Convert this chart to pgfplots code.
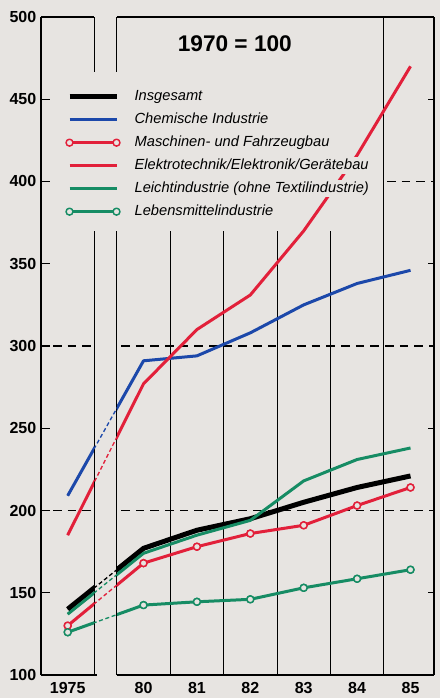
\documentclass[border=0pt]{standalone}
\usepackage{pgfplots}
\pgfplotsset{compat=1.18}
\usepackage{pgfplotstable}
\usepackage{fontspec}
\setmainfont{Liberation Sans}
\definecolor{bg}{RGB}{231,228,225}
\definecolor{cblue}{RGB}{28,72,170}
\definecolor{cred}{RGB}{226,32,58}
\definecolor{cgreen}{RGB}{22,140,100}

\pgfplotstableread{
x    ins chem masch elek leicht leben
0    140 209  130   185  137    126
1.42 177 291  168   277  174    142.5
2.42 188 294  178   310  185    144.5
3.42 195 308  186   331  194    146
4.42 205 325  191   370  218    153
5.42 214 338  203   416  231    158.5
6.42 221 346  214   470  238    164
}\data

\begin{document}
\begin{tikzpicture}[
  hd/.style={line width=0.9pt, dash pattern=on 6.5pt off 4.5pt},
  vl/.style={line width=0.75pt},
]
\path[use as bounding box, fill=bg] (-30.75pt,-17.25pt) rectangle (299.25pt,506.25pt);
\begin{axis}[
  at={(0pt,0pt)}, anchor=south west, scale only axis,
  width=294.75pt, height=493.5pt,
  xmin=-0.5, xmax=6.86, ymin=100, ymax=500,
  clip=false,
  separate axis lines,
  x axis line style={draw=none},
  y axis line style={line width=1.1pt},
  xtick={0,1.42,2.42,3.42,4.42,5.42,6.42},
  xticklabels={1975,80,81,82,83,84,85},
  ytick={100,150,...,500},
  ytick pos=left,
  tick align=inside,
  major tick length=6.75pt,
  x tick style={draw=none},
  y tick style={line width=1.1pt, black},
  ticklabel style={font=\fontsize{12}{14}\selectfont\bfseries},
  /pgf/number format/assume math mode=true,
  xticklabel style={yshift=-2pt},
  legend cell align=left,
  legend style={at={(axis cs:-0.036,457)}, anchor=north west, draw=none, fill=none,
    inner sep=0pt, row sep=4.25pt, column sep=10pt,
    font=\fontsize{11}{13}\selectfont\itshape,
    nodes={inner sep=1pt, text height=8.5pt, text depth=2.5pt, fill=bg}},
  legend image code/.code={\draw[mark repeat=1, mark phase=1, #1] plot coordinates {(0pt,0pt) (35.25pt,0pt)};},
  every axis plot/.append style={line join=round},
  mk/.style={mark=*, mark size=2.6pt, mark options={fill=bg, line width=1.1pt, solid}},
]
% grid and reference lines
\draw[hd] (axis cs:-0.275,200) -- (axis cs:0.5,200);
\draw[hd] (axis cs:-0.275,300) -- (axis cs:0.5,300);
\draw[hd] (axis cs:1.0,200) -- (axis cs:6.86,200);
\draw[hd] (axis cs:1.0,300) -- (axis cs:6.86,300);
\draw[hd] (axis cs:5.98,400) -- (axis cs:6.86,400);
\draw[vl] (axis cs:1.92,100) -- (axis cs:1.92,370);
\draw[vl] (axis cs:2.92,100) -- (axis cs:2.92,370);
\draw[vl] (axis cs:3.92,100) -- (axis cs:3.92,370);
\draw[vl] (axis cs:4.92,100) -- (axis cs:4.92,370);
\draw[vl] (axis cs:5.92,100) -- (axis cs:5.92,500);
\draw[line width=1pt] (axis cs:6.86,150) -- ++(-4.5pt,0pt);
\draw[line width=1pt] (axis cs:6.86,250) -- ++(-4.5pt,0pt);
\draw[line width=1pt] (axis cs:6.86,350) -- ++(-4.5pt,0pt);
\draw[line width=1pt] (axis cs:6.86,450) -- ++(-4.5pt,0pt);

% main series
\addplot[black, line width=3.75pt] table[x=x,y=ins]{\data};
\addlegendentry{Insgesamt}
\addplot[cblue, line width=2.25pt] table[x=x,y=chem]{\data};
\addlegendentry{Chemische Industrie}
\addplot[cred, line width=2.25pt, mk] table[x=x,y=masch]{\data};
\addlegendentry{Maschinen- und Fahrzeugbau}
\addplot[cred, line width=2.25pt] table[x=x,y=elek]{\data};
\addlegendentry{Elektrotechnik/Elektronik/Gerätebau}
\addplot[cgreen, line width=2.25pt] table[x=x,y=leicht]{\data};
\addlegendentry{Leichtindustrie (ohne Textilindustrie)}
\addplot[cgreen, line width=2.25pt, mk] table[x=x,y=leben]{\data};
\addlegendentry{Lebensmittelindustrie}

% axis break
\fill[bg] (axis cs:0.5,99) rectangle (axis cs:0.92,501);
\draw[vl] (axis cs:0.5,100) -- (axis cs:0.5,370);
\draw[vl] (axis cs:0.5,466.6) -- (axis cs:0.5,500);
\draw[vl] (axis cs:0.92,100) -- (axis cs:0.92,370);
\draw[vl] (axis cs:0.92,466.6) -- (axis cs:0.92,500);

% dashed connections across the break
\addplot[black, line width=1pt, dash pattern=on 3pt off 2pt, forget plot, skip coords between index={2}{7}] table[x=x,y=ins]{\data};
\addplot[cblue, line width=1pt, dash pattern=on 3pt off 2pt, forget plot, skip coords between index={2}{7}] table[x=x,y=chem]{\data};
\addplot[cred, line width=1pt, dash pattern=on 3pt off 2pt, forget plot, skip coords between index={2}{7}] table[x=x,y=masch]{\data};
\addplot[cred, line width=1pt, dash pattern=on 3pt off 2pt, forget plot, skip coords between index={2}{7}] table[x=x,y=elek]{\data};
\addplot[cgreen, line width=1pt, dash pattern=on 3pt off 2pt, forget plot, skip coords between index={2}{7}] table[x=x,y=leicht]{\data};
\addplot[cgreen, line width=1pt, dash pattern=on 3pt off 2pt, forget plot, skip coords between index={2}{7}] table[x=x,y=leben]{\data};
\addplot[cred, only marks, mk, forget plot] table[x=x,y=masch]{\data};
\addplot[cgreen, only marks, mk, forget plot] table[x=x,y=leben]{\data};

% frame top and bottom
\draw[line width=1.1pt] (axis cs:-0.5,500) -- (axis cs:0.5,500);
\draw[line width=1.1pt] (axis cs:0.92,500) -- (axis cs:6.86,500);
\draw[line width=1.5pt] (axis cs:-0.5,100) -- (axis cs:0.55,100);
\draw[line width=1.5pt] (axis cs:0.92,100) -- (axis cs:6.86,100);

\node[font=\fontsize{17}{20}\selectfont\bfseries] at (axis cs:3.13,484) {1970 = 100};
\end{axis}
\end{tikzpicture}
\end{document}
